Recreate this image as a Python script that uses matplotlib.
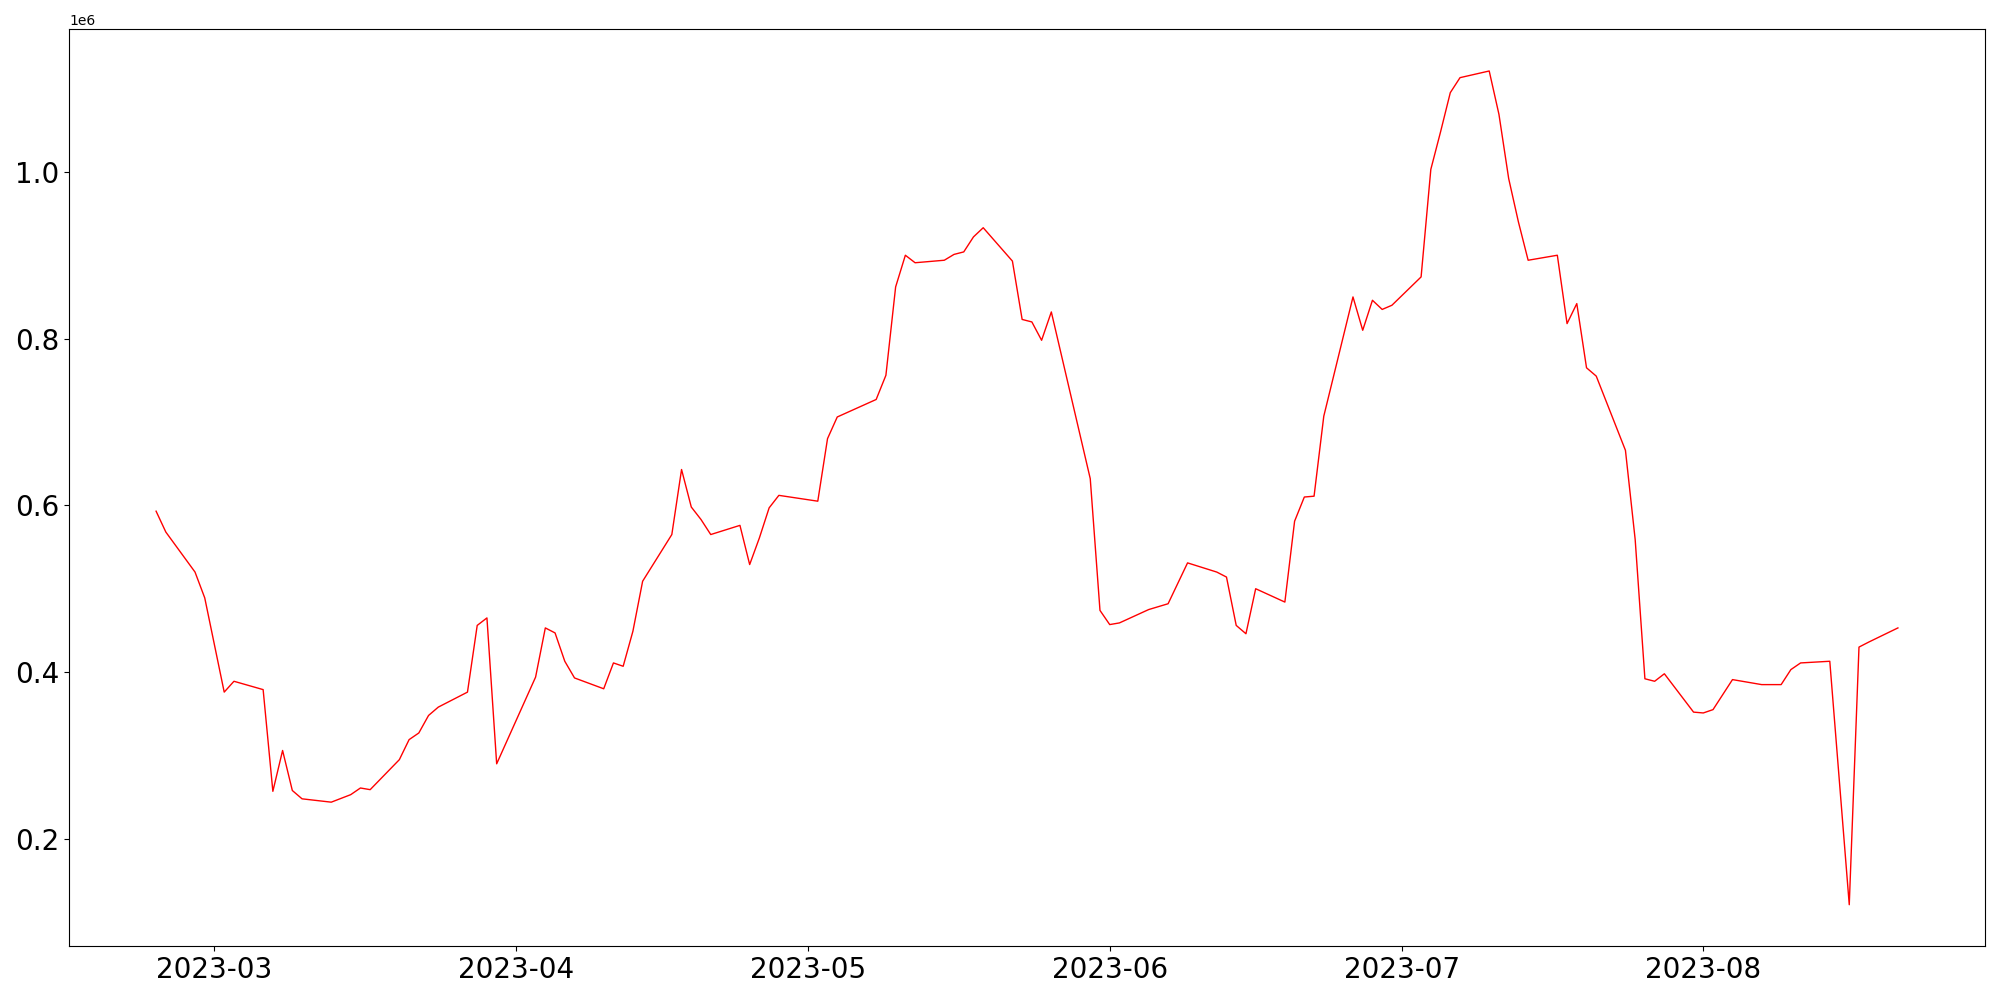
import matplotlib
matplotlib.use("Agg")
import matplotlib.pyplot as plt
import matplotlib.dates as mdates
import pandas as pd

# dates of the points
dates = [
    "2023-02-23", "2023-02-24", "2023-02-27", "2023-02-28", "2023-03-02", "2023-03-03",
    "2023-03-06", "2023-03-07", "2023-03-08", "2023-03-09", "2023-03-10", "2023-03-13",
    "2023-03-15", "2023-03-16", "2023-03-17", "2023-03-20", "2023-03-21", "2023-03-22",
    "2023-03-23", "2023-03-24", "2023-03-27", "2023-03-28", "2023-03-29", "2023-03-30",
    "2023-03-31", "2023-04-03", "2023-04-04", "2023-04-05", "2023-04-06", "2023-04-07",
    "2023-04-10", "2023-04-11", "2023-04-12", "2023-04-13", "2023-04-14", "2023-04-17",
    "2023-04-18", "2023-04-19", "2023-04-20", "2023-04-21", "2023-04-24", "2023-04-25",
    "2023-04-26", "2023-04-27", "2023-04-28", "2023-05-02", "2023-05-03", "2023-05-04",
    "2023-05-08", "2023-05-09", "2023-05-10", "2023-05-11", "2023-05-12", "2023-05-15",
    "2023-05-16", "2023-05-17", "2023-05-18", "2023-05-19", "2023-05-22", "2023-05-23",
    "2023-05-24", "2023-05-25", "2023-05-26", "2023-05-30", "2023-05-31", "2023-06-01",
    "2023-06-02", "2023-06-05", "2023-06-07", "2023-06-09", "2023-06-12", "2023-06-13",
    "2023-06-14", "2023-06-15", "2023-06-16", "2023-06-19", "2023-06-20", "2023-06-21",
    "2023-06-22", "2023-06-23", "2023-06-26", "2023-06-27", "2023-06-28", "2023-06-29",
    "2023-06-30", "2023-07-03", "2023-07-04", "2023-07-05", "2023-07-06", "2023-07-07",
    "2023-07-10", "2023-07-11", "2023-07-12", "2023-07-13", "2023-07-14", "2023-07-17",
    "2023-07-18", "2023-07-19", "2023-07-20", "2023-07-21", "2023-07-24", "2023-07-25",
    "2023-07-26", "2023-07-27", "2023-07-28", "2023-07-31", "2023-08-01", "2023-08-02",
    "2023-08-04", "2023-08-07", "2023-08-09", "2023-08-10", "2023-08-11", "2023-08-14",
    "2023-08-16", "2023-08-17", "2023-08-18", "2023-08-21",
]

# values in millions
values = [
    0.593, 0.568, 0.520, 0.489, 0.376, 0.389,
    0.379, 0.257, 0.306, 0.258, 0.248, 0.244,
    0.253, 0.261, 0.259, 0.295, 0.319, 0.327,
    0.348, 0.358, 0.376, 0.456, 0.465, 0.290,
    0.316, 0.394, 0.453, 0.447, 0.413, 0.393,
    0.380, 0.411, 0.407, 0.449, 0.509, 0.565,
    0.643, 0.598, 0.583, 0.565, 0.576, 0.529,
    0.561, 0.597, 0.612, 0.605, 0.680, 0.706,
    0.727, 0.756, 0.862, 0.900, 0.891, 0.894,
    0.901, 0.904, 0.922, 0.933, 0.893, 0.823,
    0.820, 0.798, 0.832, 0.632, 0.474, 0.457,
    0.459, 0.475, 0.482, 0.531, 0.520, 0.514,
    0.456, 0.446, 0.500, 0.484, 0.581, 0.610,
    0.611, 0.707, 0.850, 0.810, 0.846, 0.835,
    0.840, 0.874, 1.003, 1.048, 1.095, 1.113,
    1.121, 1.069, 0.992, 0.940, 0.894, 0.900,
    0.818, 0.842, 0.765, 0.755, 0.666, 0.559,
    0.392, 0.389, 0.398, 0.352, 0.351, 0.355,
    0.391, 0.385, 0.385, 0.403, 0.411, 0.413,
    0.121, 0.430, 0.436, 0.453,
]

x = pd.to_datetime(dates)
y = [v * 1e6 for v in values]

fig, ax = plt.subplots(figsize=(20, 10), dpi=100)
fig.subplots_adjust(left=0.0345, right=0.9925, bottom=0.0536, top=0.9707)

ax.plot(x, y, color='red', linewidth=1)

ax.xaxis.set_major_locator(mdates.MonthLocator())
ax.xaxis.set_major_formatter(mdates.DateFormatter('%Y-%m'))
ax.tick_params(axis='both', labelsize=20)

fig.savefig("out.png")
